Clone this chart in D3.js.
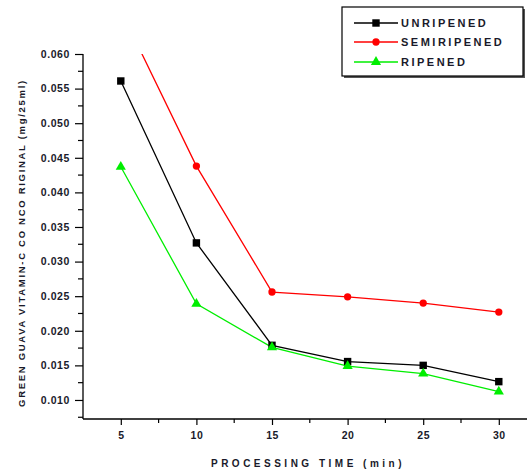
<!DOCTYPE html>
<html><head><meta charset="utf-8">
<script src="https://cdn.jsdelivr.net/npm/d3@7"></script>
<style>
html,body{margin:0;padding:0;background:#fff;}
svg text{font-family:"Liberation Sans",Arial,sans-serif;font-weight:bold;fill:#1a1a2a;}
</style></head>
<body><svg id="c" width="527" height="475"></svg>
<script>
const times = [5, 10, 15, 20, 25, 30];
const unripened = [0.0561, 0.0327, 0.0179, 0.01555, 0.0150, 0.01265];
const semiripened = [0.0663, 0.0438, 0.0256, 0.0249, 0.0240, 0.0227];
const ripened = [0.0437, 0.0239, 0.0176, 0.0149, 0.0138, 0.0112];
const seriesNames = ["UNRIPENED", "SEMIRIPENED", "RIPENED"];
const seriesColors = ["#000000", "#ff0000", "#00ee00"];
const xTickValues = [5, 10, 15, 20, 25, 30];
const yTickValues = [0.010, 0.015, 0.020, 0.025, 0.030, 0.035, 0.040, 0.045, 0.050, 0.055, 0.060];
const xLabel = "PROCESSING TIME (min)";
const yLabel = "GREEN GUAVA VITAMIN-C CO NCO RIGINAL (mg/25ml)";

const svg = d3.select("#c");
const x = d3.scaleLinear().domain([2.5, 32.5]).range([83, 536.6]);
const y = d3.scaleLinear().domain([0.00725, 0.060]).range([419, 54]);

svg.append("clipPath").attr("id","pc").append("rect")
  .attr("x", 83).attr("y", y(0.060)).attr("width", 460).attr("height", 419 - y(0.060));

// y axis
const yAxis = d3.axisLeft(y).tickValues(yTickValues).tickFormat(d3.format(".3f")).tickSize(8).tickPadding(5);
const gy = svg.append("g").attr("transform","translate(83,0)").call(yAxis);
gy.select(".domain").attr("stroke","#000").attr("stroke-width",1.3).attr("d","M0,"+y(0.060)+"V419");
gy.selectAll(".tick line").attr("stroke","#000").attr("stroke-width",1.2);
gy.selectAll(".tick text").attr("font-size","10.5px").attr("letter-spacing","0.6px");
const yMinor = d3.range(0.0075, 0.0600, 0.005);
svg.append("g").selectAll("line").data(yMinor).join("line")
  .attr("x1",78).attr("x2",83).attr("y1",d=>y(d)).attr("y2",d=>y(d))
  .attr("stroke","#000").attr("stroke-width",1.2);

// x axis
const xAxis = d3.axisBottom(x).tickValues(xTickValues).tickFormat(d3.format("d")).tickSize(6).tickPadding(7);
const gx = svg.append("g").attr("transform","translate(0,419)").call(xAxis);
gx.select(".domain").attr("stroke","#000").attr("stroke-width",1.3).attr("d","M83,0H536");
gx.selectAll(".tick line").attr("stroke","#000").attr("stroke-width",1.2);
gx.selectAll(".tick text").attr("font-size","10.5px").attr("letter-spacing","0.5px");
const xMinor = d3.range(7.5, 32.5, 5);
svg.append("g").selectAll("line").data(xMinor).join("line")
  .attr("x1",d=>x(d)).attr("x2",d=>x(d)).attr("y1",419).attr("y2",423)
  .attr("stroke","#000").attr("stroke-width",1.2);

// axis titles
svg.append("text").attr("x", 308).attr("y", 467).attr("text-anchor","middle")
  .attr("font-size","10px").attr("letter-spacing","3.5px").text(xLabel);
svg.append("text").attr("transform","translate(25,243) rotate(-90)").attr("text-anchor","middle")
  .attr("font-size","9.5px").attr("letter-spacing","1.7px").text(yLabel);

// lines
const allSeries = [unripened, semiripened, ripened];
const line = d3.line().x((d,i)=>x(times[i])).y(d=>y(d));
const plot = svg.append("g").attr("clip-path","url(#pc)");
allSeries.forEach((s,k)=>{
  plot.append("path").datum(s).attr("d",line).attr("fill","none")
    .attr("stroke",seriesColors[k]).attr("stroke-width",1.3);
});

const sym = [d3.symbolSquare, d3.symbolCircle, d3.symbolTriangle];
const symSize = [55, 42, 45];
allSeries.forEach((s,k)=>{
  plot.append("g").selectAll("path").data(s).join("path")
    .attr("transform",(d,i)=>"translate("+x(times[i])+","+y(d)+")")
    .attr("d", d3.symbol().type(sym[k]).size(symSize[k]))
    .attr("fill",seriesColors[k]);
});

// legend
const lg = svg.append("g");
lg.append("rect").attr("x",344).attr("y",9).attr("width",181).attr("height",69).attr("fill","#555");
lg.append("rect").attr("x",342).attr("y",7).attr("width",181).attr("height",69)
  .attr("fill","#fff").attr("stroke","#000").attr("stroke-width",1.2);
const rowsY = [23, 42, 62];
seriesNames.forEach((n,k)=>{
  lg.append("line").attr("x1",354).attr("x2",398).attr("y1",rowsY[k]).attr("y2",rowsY[k])
    .attr("stroke",seriesColors[k]).attr("stroke-width",1.3);
  lg.append("path").attr("transform","translate(376,"+rowsY[k]+")")
    .attr("d", d3.symbol().type(sym[k]).size(symSize[k])).attr("fill",seriesColors[k]);
  lg.append("text").attr("x",401).attr("y",rowsY[k]+4).attr("font-size","11px")
    .attr("letter-spacing","2.5px").text(n);
});
</script></body></html>
